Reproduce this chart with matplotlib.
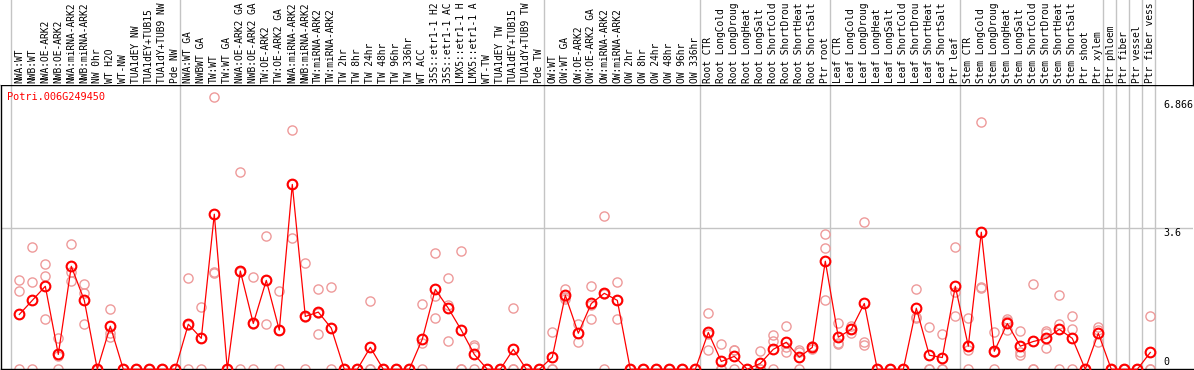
import matplotlib
matplotlib.use('Agg')
import matplotlib.pyplot as plt
from matplotlib import transforms

labels = [
    "NWA:WT", "NWB:WT", "NWA:OE-ARK2", "NWB:OE-ARK2", "NWA:miRNA-ARK2", "NWB:miRNA-ARK2",
    "NW 0hr", "WT H2O", "WT-NW", "TUA1dEY NW", "TUA1dEY+TUB15", "TUA1dY+TUB9 NW", "Pde NW",
    "NWA:WT GA", "NWBWT GA", "TW:WT", "TW:WT GA", "NWA:OE-ARK2 GA", "NWB:OE-ARK2 GA",
    "TW:OE-ARK2", "TW:OE-ARK2 GA", "NWA:miRNA-ARK2", "NWB:miRNA-ARK2", "TW:miRNA-ARK2",
    "TW:miRNA-ARK2", "TW 2hr", "TW 8hr", "TW 24hr", "TW 48hr", "TW 96hr", "TW 336hr", "WT ACC",
    "35S::etr1-1 H2", "35S::etr1-1 AC", "LMX5::etr1-1 H", "LMX5::etr1-1 A", "WT-TW",
    "TUA1dEY TW", "TUA1dEY+TUB15", "TUA1dY+TUB9 TW", "Pde TW",
    "OW:WT", "OW:WT GA", "OW:OE-ARK2", "OW:OE-ARK2 GA", "OW:miRNA-ARK2", "OW:miRNA-ARK2",
    "OW 2hr", "OW 8hr", "OW 24hr", "OW 48hr", "OW 96hr", "OW 336hr",
    "Root CTR", "Root LongCold", "Root LongDroug", "Root LongHeat", "Root LongSalt",
    "Root ShortCold", "Root ShortDrou", "Root ShortHeat", "Root ShortSalt", "Ptr root",
    "Leaf CTR", "Leaf LongCold", "Leaf LongDroug", "Leaf LongHeat", "Leaf LongSalt",
    "Leaf ShortCold", "Leaf ShortDrou", "Leaf ShortHeat", "Leaf ShortSalt", "Ptr leaf",
    "Stem CTR", "Stem LongCold", "Stem LongDroug", "Stem LongHeat", "Stem LongSalt",
    "Stem ShortCold", "Stem ShortDrou", "Stem ShortHeat", "Stem ShortSalt", "Ptr shoot",
    "Ptr xylem", "Ptr phloem", "Ptr fiber", "Ptr vessel", "Ptr fiber vess",
]

means = [
    1.40, 1.76, 2.12, 0.38, 2.63, 1.76, 0, 1.10, 0, 0, 0, 0, 0,
    1.15, 0.79, 3.96, 0, 2.51, 1.17, 2.27, 1.00, 4.72, 1.35, 1.46, 1.05, 0, 0, 0.56, 0, 0, 0,
    0.77, 2.04, 1.56, 1.00, 0.38, 0, 0, 0.51, 0, 0,
    0.31, 1.89, 0.92, 1.68, 1.94, 1.76, 0, 0, 0, 0, 0, 0,
    0.94, 0.20, 0.33, 0, 0.15, 0.51, 0.69, 0.31, 0.56, 2.76,
    0.82, 1.02, 1.68, 0, 0, 0, 1.56, 0.36, 0.30, 2.12,
    0.59, 3.50, 0.46, 1.17, 0.59, 0.71, 0.79, 1.02, 0.79, 0, 0.92,
    0, 0, 0, 0.43,
]

rep1 = [
    2.27, 3.11, 2.68, 0.79, 3.19, 2.17, 0, 1.53, 0, 0, 0, 0, 0,
    2.32, 1.58, 6.95, 0, 5.04, 2.35, 3.40, 1.99, 6.10, 2.71, 2.04, 2.09, 0, 0, 1.74, 0, 0, 0,
    1.66, 2.96, 2.32, 3.01, 0.61, 0, 0, 1.56, 0, 0,
    0.94, 2.04, 1.15, 2.12, 3.91, 2.22, 0, 0, 0, 0, 0, 0,
    1.43, 0.64, 0.49, 0, 0.46, 0.87, 1.10, 0.49, 0.56, 3.45,
    1.17, 1.10, 3.75, 0, 0, 0, 2.04, 1.07, 0.89, 3.11,
    1.30, 6.31, 0.94, 1.28, 0.97, 2.17, 0.97, 1.89, 1.35, 0, 1.07,
    0, 0, 0, 1.35,
]

rep2 = [
    1.99, 2.22, 2.37, 0.35, 2.48, 1.94, 0, 0.92, 0, 0, 0, 0, 0,
    1.13, 0.79, 2.48, 0, 2.49, 1.16, 1.15, 1.01, 3.34, 1.34, 0.89, 1.06, 0, 0, 0, 0, 0, 0,
    0.66, 1.86, 1.63, 0, 0.56, 0, 0, 0, 0, 0,
    0, 1.79, 0.69, 1.28, 1.91, 1.28, 0, 0, 0, 0, 0, 0,
    0.49, 0, 0.50, 0, 0, 0.71, 0.56, 0.43, 0.60, 3.09,
    0.66, 0.92, 0.69, 0, 0, 0, 1.30, 0, 0, 1.35,
    0.49, 2.09, 0.45, 1.23, 0.43, 0, 0.92, 1.15, 1.02, 0, 0.69,
    0, 0, 0, 0,
]

rep3 = [
    0, 0, 1.28, 0, 2.25, 1.15, 0, 0.82, 0, 0, 0, 0, 0,
    0, 0, 2.45, 0, 0, 0, 2.27, 0, 4.72, 0, 1.45, 0, 0, 0, 0, 0, 0, 0,
    0, 1.30, 0.71, 0, 0, 0, 0, 0, 0, 0,
    0, 1.84, 0.92, 1.65, 0, 1.78, 0, 0, 0, 0, 0, 0,
    0.90, 0, 0, 0, 0, 0, 0.43, 0, 0.52, 1.76,
    0.64, 1.04, 0.61, 0, 0, 0, 1.34, 0, 0, 1.97,
    0, 2.07, 0, 1.00, 0.36, 0, 0.54, 0, 0, 0, 1.00,
    0, 0, 0, 0,
]

group_starts = [0, 13, 41, 53, 63, 73, 84, 85, 86, 87, 88]
gene_name = "Potri.006G249450"
ytick_vals = [0, 3.6, 6.866]
ytick_texts = ["0", "3.6", "6.866"]

W, H = 1194, 370
DPI = 100
fig = plt.figure(figsize=(W / DPI, H / DPI), dpi=DPI)
fig.patch.set_facecolor('white')

px_top = 85.0      # boundary between label strip and plot
px_zero = 369.3    # pixel row of value 0
px_per_unit = 39.17
px_per_cat = 13.0
x_left_px = 1.0
x_right_px = 1193.0
first_center_px = 19.3

ax = fig.add_axes([x_left_px / W, (H - px_zero) / H,
                   (x_right_px - x_left_px) / W, (px_zero - px_top) / H])
axl = fig.add_axes([x_left_px / W, (H - px_top) / H,
                    (x_right_px - x_left_px) / W, px_top / H])

xmin = (x_left_px - first_center_px) / px_per_cat
xmax = (x_right_px - first_center_px) / px_per_cat
ax.set_xlim(xmin, xmax)
axl.set_xlim(xmin, xmax)
ax.set_ylim(0, (px_zero - px_top) / px_per_unit)
axl.set_ylim(0, 1)

x = list(range(len(labels)))
mono = 'DejaVu Sans Mono'
sep_color = '#c4c4c4'

# separators
for b in group_starts:
    xs = b - 0.64
    ax.axvline(xs, color=sep_color, lw=1.0, zorder=1)
    axl.axvline(xs, color=sep_color, lw=1.0, zorder=1)
ax.axhline(3.6, color=sep_color, lw=1.0, zorder=1)

# replicates
for rep in (rep1, rep2, rep3):
    ax.plot(x, rep, linestyle='none', marker='o', mfc='none', mec='#ee9a9a',
            ms=6.6, mew=1.0, clip_on=False, zorder=2)

# means
ax.plot(x, means, color='red', lw=0.9, marker='o', mfc='none', mec='red',
        ms=7.0, mew=1.5, clip_on=False, zorder=3)

# spines
ax.spines['right'].set_visible(False)
for s in ('left', 'bottom', 'top'):
    ax.spines[s].set_color('black')
    ax.spines[s].set_linewidth(1.0)
ax.set_xticks([])
ax.set_yticks([])
for s in ('left', 'top', 'bottom'):
    axl.spines[s].set_visible(False)
axl.spines['right'].set_color('black')
axl.spines['right'].set_linewidth(1.0)
axl.set_xticks([])
axl.set_yticks([])

# category labels (vertical)
trans_l = transforms.blended_transform_factory(axl.transData, axl.transAxes)
for i, lab in enumerate(labels):
    axl.text(i, 2.0 / px_top, lab, rotation=90, ha='center', va='bottom',
             fontsize=6.95, family=mono, color='black', transform=trans_l)

# y value labels at right
trans_y = transforms.blended_transform_factory(ax.transAxes, ax.transData)
xlab = (1163 - x_left_px) / (x_right_px - x_left_px)
for v, t in zip(ytick_vals, ytick_texts):
    if v == 0:
        tr = transforms.offset_copy(trans_y, fig=fig, x=0, y=7.0, units='dots')
    else:
        tr = transforms.offset_copy(trans_y, fig=fig, x=0, y=-4.5, units='dots')
    ax.text(xlab, v, t, ha='left', va='center', fontsize=7.2, family=mono,
            color='black', transform=tr, clip_on=False)

# gene name
fig.text(7 / W, (H - 97) / H, gene_name, ha='left', va='center', fontsize=7.4,
         family=mono, color='red')

fig.savefig('out.png', dpi=DPI, facecolor='white')
